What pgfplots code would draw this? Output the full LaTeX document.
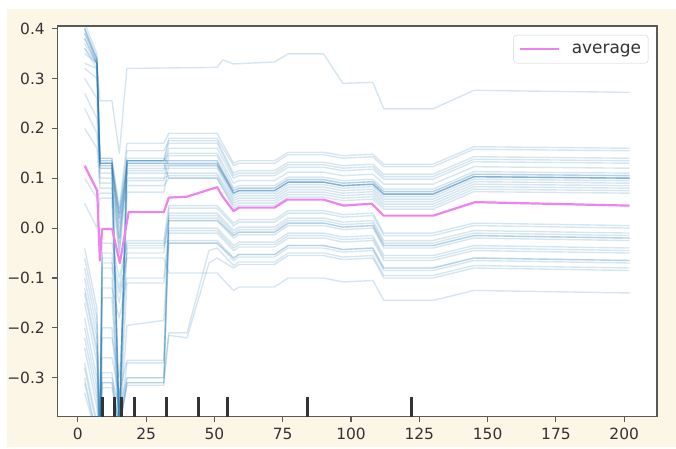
\documentclass[border=0pt]{standalone}
\usepackage{fontspec}
\setmainfont{DejaVu Sans}
\usepackage{pgfplots}
\pgfplotsset{compat=1.18}
\definecolor{cream}{RGB}{252,246,231}
\definecolor{cz}{RGB}{31,119,180}
\definecolor{avg}{RGB}{238,130,238}
\pgfplotsset{ice/.style={forget plot, color=cz, opacity=0.18, line width=1.4bp, line join=round}}
\begin{document}
\begin{tikzpicture}
\useasboundingbox (0,0) rectangle (676bp,449bp);
\fill[white] (0,0) rectangle (676bp,449bp);
\fill[cream] (6.7bp,2.3bp) rectangle (676bp,440.4bp);
\begin{axis}[
  at={(57.3bp,32.3bp)}, anchor=south west,
  width=599.7bp, height=390.7bp, scale only axis,
  xmin=-7.5, xmax=212, ymin=-0.378, ymax=0.405,
  axis background/.style={fill=white},
  axis line style={black!65, line width=1.1bp},
  major tick style={black!65, line width=1.1bp},
  major tick length=5bp, tick align=outside,
  xtick pos=bottom, ytick pos=left,
  xtick={0,25,50,75,100,125,150,175,200},
  xticklabels={0,25,50,75,100,125,150,175,200},
  ytick={-0.3,-0.2,-0.1,0,0.1,0.2,0.3,0.4},
  yticklabels={−0.3,−0.2,−0.1,0.0,0.1,0.2,0.3,0.4},
  tick label style={font=\fontsize{15.5}{18}\selectfont, text=black!80},
  yticklabel style={xshift=-4bp},
  xticklabel style={yshift=-3bp},
  unbounded coords=jump,
  legend style={at={(0.9855,0.977)}, anchor=north east, draw=black!18, fill=white,
    rounded corners=3bp, inner xsep=5bp, inner ysep=6.5bp,
    font=\fontsize{17}{20}\selectfont, text=black!80,
    /tikz/every odd column/.append style={column sep=10bp}},
  legend image code/.code={\draw[#1] (0bp,0bp) -- (39bp,0bp);},
]
% special top line
\addplot[ice] coordinates {(2.5,0.38) (7,0.33) (8.1,0.255) (12.5,0.255) (15.2,0.15) (18,0.32) (51,0.322) (53,0.337) (57,0.329) (72,0.333) (77,0.349) (90,0.349) (97,0.29) (108,0.292) (112,0.239) (130,0.239) (145,0.276) (202,0.272)};
% upper group
\addplot[ice] coordinates {(2.5,0.41) (7,0.35) (8.1,0.14) (12.5,0.14) (15.2,0.04) (18,0.17) (31.5,0.17) (33.3,0.19) (51,0.19) (57,0.13) (59,0.135) (72,0.135) (77,0.152) (90,0.152) (97,0.145) (108,0.148) (112,0.128) (130,0.128) (145,0.163) (202,0.16)};
\addplot[ice] coordinates {(2.5,0.40) (7,0.34) (8.1,0.13) (12.5,0.13) (15.2,-0.40) (18,0.135) (31.5,0.135) (33.3,0.18) (51,0.18) (57,0.125) (59,0.13) (72,0.13) (77,0.147) (90,0.147) (97,0.14) (108,0.143) (112,0.123) (130,0.123) (145,0.158) (202,0.155)};
\addplot[ice] coordinates {(2.5,0.40) (7,0.33) (8.1,0.13) (12.5,0.13) (15.2,0.03) (18,0.155) (31.5,0.155) (33.3,0.175) (51,0.175) (57,0.11) (59,0.115) (72,0.115) (77,0.132) (90,0.132) (97,0.125) (108,0.128) (112,0.108) (130,0.108) (145,0.143) (202,0.14)};
\addplot[ice] coordinates {(2.5,0.39) (7,0.34) (8.1,0.14) (12.5,0.14) (15.2,-0.40) (18,0.135) (31.5,0.135) (33.3,0.17) (51,0.17) (57,0.105) (59,0.11) (72,0.11) (77,0.127) (90,0.127) (97,0.12) (108,0.123) (112,0.103) (130,0.103) (145,0.138) (202,0.135)};
\addplot[ice] coordinates {(2.5,0.38) (7,0.33) (8.1,0.12) (12.5,0.12) (15.2,0.02) (18,0.115) (31.5,0.115) (33.3,0.16) (51,0.16) (57,0.10) (59,0.105) (72,0.105) (77,0.122) (90,0.122) (97,0.115) (108,0.118) (112,0.098) (130,0.098) (145,0.133) (202,0.13)};
\addplot[ice] coordinates {(2.5,0.37) (7,0.33) (8.1,0.13) (12.5,0.13) (15.2,-0.40) (18,0.135) (31.5,0.135) (33.3,0.15) (51,0.15) (57,0.09) (59,0.095) (72,0.095) (77,0.112) (90,0.112) (97,0.105) (108,0.108) (112,0.088) (130,0.088) (145,0.123) (202,0.12)};
\addplot[ice] coordinates {(2.5,0.36) (7,0.32) (8.1,0.11) (12.5,0.11) (15.2,0.0) (18,0.095) (31.5,0.095) (33.3,0.145) (51,0.145) (57,0.08) (59,0.085) (72,0.085) (77,0.102) (90,0.102) (97,0.095) (108,0.098) (112,0.078) (130,0.078) (145,0.113) (202,0.11)};
\addplot[ice] coordinates {(2.5,0.35) (7,0.33) (8.1,0.135) (12.5,0.135) (15.2,-0.05) (18,0.135) (31.5,0.135) (33.3,0.135) (51,0.135) (57,0.075) (59,0.08) (72,0.08) (77,0.097) (90,0.097) (97,0.09) (108,0.093) (112,0.073) (130,0.073) (145,0.108) (202,0.105)};
\addplot[ice] coordinates {(2.5,0.33) (7,0.32) (8.1,0.13) (12.5,0.13) (15.2,-0.40) (18,0.135) (31.5,0.135) (33.3,0.135) (51,0.135) (57,0.07) (59,0.075) (72,0.075) (77,0.092) (90,0.092) (97,0.085) (108,0.088) (112,0.068) (130,0.068) (145,0.103) (202,0.10)};
\addplot[ice] coordinates {(2.5,0.32) (7,0.30) (8.1,0.125) (12.5,0.125) (15.2,0.02) (18,0.13) (31.5,0.13) (33.3,0.13) (51,0.13) (57,0.07) (59,0.075) (72,0.075) (77,0.092) (90,0.092) (97,0.085) (108,0.088) (112,0.068) (130,0.068) (145,0.103) (202,0.10)};
\addplot[ice] coordinates {(2.5,0.30) (7,0.26) (8.1,0.10) (12.5,0.10) (15.2,-0.02) (18,0.125) (31.5,0.125) (33.3,0.125) (51,0.125) (57,0.07) (59,0.075) (72,0.075) (77,0.092) (90,0.092) (97,0.085) (108,0.088) (112,0.068) (130,0.068) (145,0.103) (202,0.10)};
\addplot[ice] coordinates {(2.5,0.27) (7,0.22) (8.1,0.09) (12.5,0.09) (15.2,-0.40) (18,0.072) (31.5,0.072) (33.3,0.125) (51,0.125) (57,0.065) (59,0.07) (72,0.07) (77,0.087) (90,0.087) (97,0.08) (108,0.083) (112,0.063) (130,0.063) (145,0.098) (202,0.095)};
\addplot[ice] coordinates {(2.5,0.24) (7,0.19) (8.1,0.12) (12.5,0.12) (15.2,0.01) (18,0.12) (31.5,0.12) (33.3,0.12) (51,0.12) (57,0.06) (59,0.065) (72,0.065) (77,0.082) (90,0.082) (97,0.075) (108,0.078) (112,0.058) (130,0.058) (145,0.093) (202,0.09)};
\addplot[ice] coordinates {(2.5,0.20) (7,0.16) (8.1,0.08) (12.5,0.08) (15.2,-0.03) (18,0.11) (31.5,0.11) (33.3,0.11) (51,0.11) (57,0.055) (59,0.06) (72,0.06) (77,0.077) (90,0.077) (97,0.07) (108,0.073) (112,0.053) (130,0.053) (145,0.088) (202,0.085)};
\addplot[ice] coordinates {(2.5,0.10) (7,0.06) (8.1,0.07) (12.5,0.07) (15.2,-0.05) (18,0.10) (31.5,0.10) (33.3,0.105) (51,0.105) (57,0.05) (59,0.055) (72,0.055) (77,0.072) (90,0.072) (97,0.065) (108,0.068) (112,0.048) (130,0.048) (145,0.083) (202,0.08)};
\addplot[ice] coordinates {(2.5,0.05) (7,0.0) (8.1,0.06) (12.5,0.06) (15.2,-0.40) (18,0.085) (31.5,0.085) (33.3,0.10) (51,0.10) (57,0.04) (59,0.045) (72,0.045) (77,0.062) (90,0.062) (97,0.055) (108,0.058) (112,0.038) (130,0.038) (145,0.073) (202,0.07)};
\addplot[ice] coordinates {(2.5,0.39) (7,0.335) (8.1,0.13) (12.5,0.13) (15.2,0.03) (18,0.13) (31.5,0.13) (33.3,0.13) (51,0.13) (57,0.075) (59,0.08) (72,0.08) (77,0.097) (90,0.097) (97,0.09) (108,0.093) (112,0.073) (130,0.073) (145,0.108) (202,0.105)};
\addplot[ice] coordinates {(2.5,0.40) (7,0.34) (8.1,0.135) (12.5,0.135) (15.2,-0.02) (18,0.14) (31.5,0.14) (33.3,0.128) (51,0.128) (57,0.07) (59,0.075) (72,0.075) (77,0.092) (90,0.092) (97,0.085) (108,0.088) (112,0.068) (130,0.068) (145,0.103) (202,0.10)};
\addplot[ice] coordinates {(2.5,0.36) (7,0.33) (8.1,0.125) (12.5,0.125) (15.2,-0.40) (18,0.13) (31.5,0.13) (33.3,0.10) (51,0.10) (57,0.045) (59,0.05) (72,0.05) (77,0.067) (90,0.067) (97,0.06) (108,0.063) (112,0.043) (130,0.043) (145,0.078) (202,0.075)};
% lower group
\addplot[ice] coordinates {(2.5,-0.04) (7,-0.16) (8.1,-0.42) (8.9,-0.05) (12.5,-0.05) (15.2,-0.12) (18,-0.025) (31.5,-0.025) (33.3,0.045) (51,0.045) (57,0.01) (59,0.017) (72,0.017) (77,0.035) (90,0.035) (97,0.027) (108,0.03) (112,-0.01) (130,-0.01) (145,0.01) (202,0.005)};
\addplot[ice] coordinates {(2.5,-0.30) (7,-0.42) (8.1,-0.42) (8.9,-0.31) (12.5,-0.31) (15.2,-0.40) (18,-0.31) (31.5,-0.31) (33.3,0.04) (51,0.04) (57,0.005) (59,0.012) (72,0.012) (77,0.03) (90,0.03) (97,0.022) (108,0.025) (112,-0.015) (130,-0.015) (145,0.005) (202,0.0)};
\addplot[ice] coordinates {(2.5,-0.08) (7,-0.20) (8.1,-0.42) (8.9,-0.06) (12.5,-0.06) (15.2,-0.40) (18,-0.035) (31.5,-0.035) (33.3,0.03) (51,0.03) (57,-0.005) (59,0.002) (72,0.002) (77,0.02) (90,0.02) (97,0.012) (108,0.015) (112,-0.025) (130,-0.025) (145,-0.005) (202,-0.01)};
\addplot[ice] coordinates {(2.5,-0.24) (7,-0.36) (8.1,-0.42) (8.9,-0.26) (12.5,-0.26) (15.2,-0.33) (18,-0.265) (31.5,-0.265) (33.3,0.025) (51,0.025) (57,-0.01) (59,-0.003) (72,-0.003) (77,0.015) (90,0.015) (97,0.007) (108,0.01) (112,-0.03) (130,-0.03) (145,-0.01) (202,-0.015)};
\addplot[ice] coordinates {(2.5,-0.10) (7,-0.22) (8.1,-0.42) (8.9,-0.08) (12.5,-0.08) (15.2,-0.15) (18,-0.05) (31.5,-0.05) (33.3,0.02) (51,0.02) (57,-0.015) (59,-0.008) (72,-0.008) (77,0.01) (90,0.01) (97,0.002) (108,0.005) (112,-0.035) (130,-0.035) (145,-0.015) (202,-0.02)};
\addplot[ice] coordinates {(2.5,-0.27) (7,-0.39) (8.1,-0.42) (8.9,-0.29) (12.5,-0.29) (15.2,-0.40) (18,-0.30) (31.5,-0.30) (33.3,0.015) (51,0.015) (57,-0.02) (59,-0.013) (72,-0.013) (77,0.005) (90,0.005) (97,-0.003) (108,0.0) (112,-0.04) (130,-0.04) (145,-0.02) (202,-0.025)};
\addplot[ice] coordinates {(2.5,-0.13) (7,-0.25) (8.1,-0.42) (8.9,-0.12) (12.5,-0.12) (15.2,-0.18) (18,-0.10) (31.5,-0.10) (33.3,0.0) (51,0.0) (57,-0.035) (59,-0.028) (72,-0.028) (77,-0.01) (90,-0.01) (97,-0.018) (108,-0.015) (112,-0.055) (130,-0.055) (145,-0.035) (202,-0.04)};
\addplot[ice] coordinates {(2.5,-0.18) (7,-0.30) (8.1,-0.42) (8.9,-0.20) (12.5,-0.20) (15.2,-0.40) (18,-0.195) (31.5,-0.185) (33.3,-0.005) (51,-0.005) (57,-0.04) (59,-0.033) (72,-0.033) (77,-0.015) (90,-0.015) (97,-0.023) (108,-0.02) (112,-0.06) (130,-0.06) (145,-0.04) (202,-0.045)};
\addplot[ice] coordinates {(2.5,-0.33) (7,-0.42) (8.1,-0.42) (8.9,-0.32) (12.5,-0.32) (15.2,-0.40) (18,-0.315) (31.5,-0.315) (33.3,-0.01) (51,-0.01) (57,-0.045) (59,-0.038) (72,-0.038) (77,-0.02) (90,-0.02) (97,-0.028) (108,-0.025) (112,-0.065) (130,-0.065) (145,-0.045) (202,-0.05)};
\addplot[ice] coordinates {(2.5,-0.06) (7,-0.18) (8.1,-0.42) (8.9,-0.03) (12.5,-0.03) (15.2,-0.10) (18,-0.03) (31.5,-0.03) (33.3,-0.025) (51,-0.025) (57,-0.06) (59,-0.053) (72,-0.053) (77,-0.035) (90,-0.035) (97,-0.043) (108,-0.04) (112,-0.08) (130,-0.08) (145,-0.06) (202,-0.065)};
\addplot[ice] coordinates {(2.5,-0.15) (7,-0.27) (8.1,-0.42) (8.9,-0.14) (12.5,-0.14) (15.2,-0.40) (18,-0.11) (31.5,-0.11) (33.3,-0.03) (51,-0.03) (57,-0.065) (59,-0.058) (72,-0.058) (77,-0.04) (90,-0.04) (97,-0.048) (108,-0.045) (112,-0.085) (130,-0.085) (145,-0.065) (202,-0.07)};
\addplot[ice] coordinates {(2.5,-0.28) (7,-0.40) (8.1,-0.42) (8.9,-0.30) (12.5,-0.30) (15.2,-0.36) (18,-0.30) (31.5,-0.30) (33.3,-0.21) (40,-0.21) (48,-0.045) (51,-0.04) (57,-0.075) (59,-0.068) (72,-0.068) (77,-0.05) (90,-0.05) (97,-0.058) (108,-0.055) (112,-0.095) (130,-0.095) (145,-0.075) (202,-0.08)};
\addplot[ice] coordinates {(2.5,-0.31) (7,-0.42) (8.1,-0.42) (8.9,-0.31) (12.5,-0.31) (15.2,-0.40) (18,-0.31) (31.5,-0.31) (33.3,-0.215) (40,-0.22) (48,-0.07) (51,-0.06) (57,-0.08) (59,-0.073) (72,-0.073) (77,-0.055) (90,-0.055) (97,-0.063) (108,-0.06) (112,-0.10) (130,-0.10) (145,-0.08) (202,-0.085)};
\addplot[ice] coordinates {(2.5,-0.20) (7,-0.32) (8.1,-0.42) (8.9,-0.07) (12.5,-0.07) (15.2,-0.13) (18,-0.06) (31.5,-0.06) (33.3,-0.09) (51,-0.09) (57,-0.125) (59,-0.118) (72,-0.118) (77,-0.10) (90,-0.10) (97,-0.108) (108,-0.105) (112,-0.145) (130,-0.145) (145,-0.125) (202,-0.13)};
\addplot[ice] coordinates {(2.5,-0.22) (7,-0.34) (8.1,-0.42) (8.9,-0.22) (12.5,-0.22) (15.2,-0.30) (18,-0.04) (31.5,-0.04) (33.3,0.015) (51,0.015) (57,-0.015) (59,-0.008) (72,-0.008) (77,0.01) (90,0.01) (97,0.002) (108,0.005) (112,-0.035) (130,-0.035) (145,-0.015) (202,-0.02)};
\addplot[ice] coordinates {(2.5,-0.12) (7,-0.24) (8.1,-0.42) (8.9,-0.10) (12.5,-0.10) (15.2,-0.40) (18,-0.27) (31.5,-0.27) (33.3,-0.03) (51,-0.03) (57,-0.06) (59,-0.053) (72,-0.053) (77,-0.035) (90,-0.035) (97,-0.043) (108,-0.04) (112,-0.08) (130,-0.08) (145,-0.06) (202,-0.065)};
% average
\addplot[color=avg, line width=2.2bp, line join=round] coordinates {(2.5,0.125) (7.1,0.075) (8.1,-0.065) (8.9,-0.002) (12.6,-0.002) (15.4,-0.07) (18.6,0.032) (31.5,0.032) (33.3,0.061) (40,0.063) (51,0.082) (52.8,0.065) (57,0.034) (59,0.041) (72,0.041) (76.6,0.057) (90,0.057) (97.3,0.045) (107.6,0.049) (111.9,0.025) (130.2,0.025) (145.4,0.052) (202,0.045)};
\addlegendentry{average}
% rug
\addplot[forget plot, color=black!80, line width=2.7bp] coordinates {(8.92,-0.378) (8.92,-0.338) (8.92,nan) (13.42,-0.378) (13.42,-0.338) (13.42,nan) (15.98,-0.378) (15.98,-0.338) (15.98,nan) (20.73,-0.378) (20.73,-0.338) (20.73,nan) (32.43,-0.378) (32.43,-0.338) (32.43,nan) (44.24,-0.378) (44.24,-0.338) (44.24,nan) (54.84,-0.378) (54.84,-0.338) (54.84,nan) (84.1,-0.378) (84.1,-0.338) (84.1,nan) (122.1,-0.378) (122.1,-0.338)};
\end{axis}
\end{tikzpicture}
\end{document}
